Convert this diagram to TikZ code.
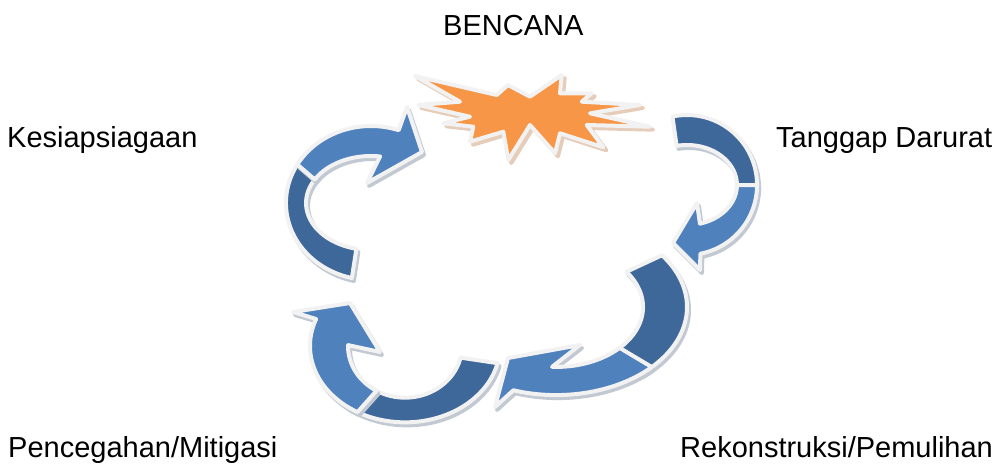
\documentclass[tikz,border=0pt]{standalone}
\usepackage{fontspec}
\setmainfont{Liberation Sans}
\definecolor{darkb}{HTML}{3E6899}
\definecolor{lightb}{HTML}{4F81BD}
\definecolor{starc}{HTML}{F79646}
\definecolor{outl}{HTML}{F2F2F2}
\definecolor{shd}{HTML}{C3C9D3}
\definecolor{starshd}{HTML}{E6CDB9}
\def\akx{1}\def\aky{1}
\def\ArrHeadPts{}
\newcommand\ArrPath[9]{%
 plot[domain=#5:#6,samples=60] ({#1+(#3+\akx*(#8+(#9-#8)*(\x-#5)/(#6-#5)))*cos(\x)},{#2+(#4+\aky*(#8+(#9-#8)*(\x-#5)/(#6-#5)))*sin(\x)})
 \ArrHeadPts
 -- plot[domain=#7:#5,samples=60] ({#1+(#3-\akx*(#8+(#9-#8)*(\x-#5)/(#7-#5)))*cos(\x)},{#2+(#4-\aky*(#8+(#9-#8)*(\x-#5)/(#7-#5)))*sin(\x)})
 -- cycle}
\tikzset{
  lbl/.style={inner sep=0pt, anchor=base west, font=\fontsize{29}{35}\selectfont},
  arrshadow/.style={fill=shd, draw=shd, line width=4pt, line join=round, shift={(2,3)}},
  arrdark/.style={fill=darkb, draw=outl, line width=4pt, line join=round},
  arrlight/.style={fill=lightb, draw=outl, line width=4pt, line join=round},
  starshadow/.style={fill=starshd, draw=starshd, line width=4pt, line join=round, shift={(3,3)}},
  starbody/.style={fill=starc, draw=outl, line width=4pt, line join=round}
}
\begin{document}
\begin{tikzpicture}[x=1pt,y=-1pt]
\useasboundingbox (0,0) rectangle (1000,463);

% starburst
\def\StarPts{(415,76) -- (496.7,95) -- (508,85) -- (530,96.7) -- (561.7,75) -- (560,93.3) -- (591.7,93.3) -- (581.7,101.7) -- (640,105) -- (590,113.3) -- (650,126.7) -- (586.7,125) -- (603.3,147.3) -- (560,133.3) -- (555,153.3) -- (530,125) -- (508.3,160) -- (503.3,131.7) -- (470,141.7) -- (473.3,126.7) -- (443.3,123.3) -- (470,116.7) -- (418.3,105) -- (460,101.7) -- cycle}
\filldraw[starshadow] \StarPts;
\filldraw[starbody] \StarPts;

% arrow 1 (Kesiapsiagaan)
\def\akx{0.67}\def\aky{1}
\def\ArrHeadPts{}
\filldraw[arrshadow] \ArrPath{371}{203}{75}{62}{103}{216}{216}{15}{15};
\filldraw[arrdark] \ArrPath{371}{203}{75}{62}{103}{216}{216}{15}{15};
\def\ArrHeadPts{-- (407,107) -- (422,152) -- (367,183)}
\filldraw[arrshadow] \ArrPath{371}{203}{75}{62}{210}{289}{278}{15}{15};
\filldraw[arrlight] \ArrPath{371}{203}{75}{62}{210}{289}{278}{15}{15};

% arrow 2 (Tanggap Darurat)
\def\akx{0.67}\def\aky{1}
\def\ArrHeadPts{}
\filldraw[arrshadow] \ArrPath{687}{185}{60}{55}{258}{366}{366}{15}{15};
\filldraw[arrdark] \ArrPath{687}{185}{60}{55}{258}{366}{366}{15}{15};
\def\ArrHeadPts{-- (700,270) -- (673,243) -- (697,203)}
\filldraw[arrshadow] \ArrPath{687}{185}{60}{55}{360}{439}{435}{15}{15};
\filldraw[arrlight] \ArrPath{687}{185}{60}{55}{360}{439}{435}{15}{15};

% arrow 3 (Rekonstruksi)
\def\akx{1}\def\aky{0.64}
\def\ArrHeadPts{}
\filldraw[arrshadow] \ArrPath{556}{307}{109}{74}{324}{410}{410}{22}{22};
\filldraw[arrdark] \ArrPath{556}{307}{109}{74}{324}{410}{410}{22}{22};
\def\ArrHeadPts{-- (495,407) -- (508,358) -- (580,345)}
\filldraw[arrshadow] \ArrPath{556}{307}{109}{74}{403}{469}{452.6}{22}{22};
\filldraw[arrlight] \ArrPath{556}{307}{109}{74}{403}{469}{452.6}{22}{22};

% arrow 4 (Pencegahan)
\def\akx{1}\def\aky{0.65}
\def\ArrHeadPts{}
\filldraw[arrshadow] \ArrPath{405}{346}{76}{64}{13}{128}{128}{19}{19};
\filldraw[arrdark] \ArrPath{405}{346}{76}{64}{13}{128}{128}{19}{19};
\def\ArrHeadPts{-- (293,312) -- (350,303) -- (380,352)}
\filldraw[arrshadow] \ArrPath{405}{346}{76}{64}{120}{200.7}{181}{19}{19};
\filldraw[arrlight] \ArrPath{405}{346}{76}{64}{120}{200.7}{181}{19}{19};

% labels
\node[lbl] (bencana) at (443,35) {BENCANA};
\node[lbl] (kesiap) at (7,147) {Kesiapsiagaan};
\node[lbl] (tanggap) at (776,147) {Tanggap Darurat};
\node[lbl] (cegah) at (8,457) {Pencegahan/Mitigasi};
\node[lbl] (rekon) at (680,457) {Rekonstruksi/Pemulihan};
\end{tikzpicture}
\end{document}
